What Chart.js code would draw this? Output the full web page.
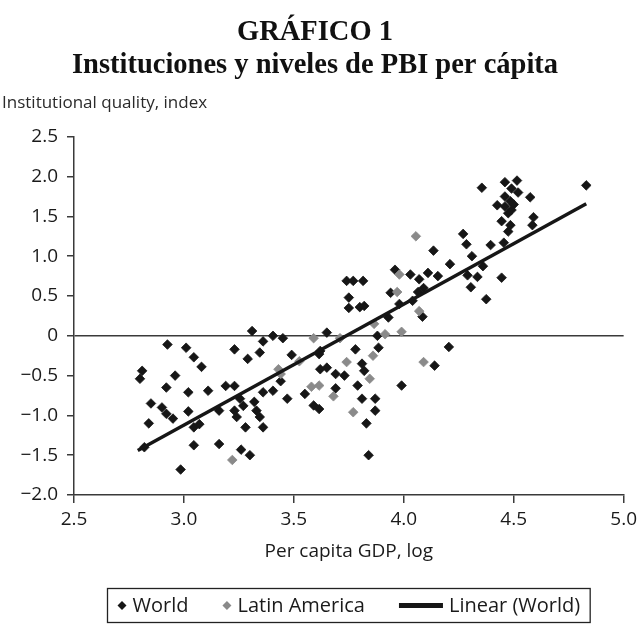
<!DOCTYPE html>
<html>
<head>
<meta charset="utf-8">
<script src="https://cdn.jsdelivr.net/npm/chart.js@4.4.0/dist/chart.umd.min.js"></script>
<style>
  html, body { margin: 0; padding: 0; background: #fff; }
  #wrap { width: 642px; height: 624px; position: relative; }
</style>
</head>
<body>
<div id="wrap"><canvas id="c" width="642" height="624"></canvas></div>
<script>
// ---- Data ----
const titleLines = ['GRÁFICO 1', 'Instituciones y niveles de PBI per cápita'];
const yAxisTitle = 'Institutional quality, index';
const xAxisTitle = 'Per capita GDP, log';
const seriesNames = ['World', 'Latin America', 'Linear (World)'];
const xTickLabels = ['2.5', '3.0', '3.5', '4.0', '4.5', '5.0'];
const yTickLabels = ['−2.0', '−1.5', '−1.0', '−0.5', '0', '0.5', '1.0', '1.5', '2.0', '2.5'];

const worldGdp = [
  2.82, 2.81, 2.80, 2.925, 3.01, 3.045, 3.08, 2.96, 2.92, 3.02,
  3.11, 3.19, 3.23, 2.85, 2.90, 2.92, 2.95, 3.02, 2.84, 3.16,
  3.255, 3.27, 3.23, 3.24, 3.32, 3.33, 3.345, 3.36, 3.28, 3.36,
  3.405, 3.47, 3.55, 3.045, 3.07, 3.045, 3.16, 3.26, 3.30, 2.985,
  3.31, 3.405, 3.45, 3.36, 3.23, 3.345, 3.29, 3.49, 3.44,
  3.65, 3.88, 3.78, 3.885, 3.62, 3.615, 3.62, 3.65, 3.81, 3.82,
  3.69, 3.73, 3.79, 3.99, 3.69, 3.81, 3.87, 3.59, 3.615, 3.87,
  3.83, 3.84, 4.205, 4.14, 3.93, 4.085, 3.98, 4.04, 3.75, 3.80,
  3.82, 3.75, 3.94, 3.74, 3.77, 3.815, 3.96, 4.03, 4.07, 4.11,
  4.155, 4.135, 4.21, 4.09, 4.065,
  4.355, 4.46, 4.515, 4.49, 4.52, 4.46, 4.575, 4.425, 4.485, 4.50,
  4.46, 4.49, 4.475, 4.59, 4.585, 4.445, 4.485, 4.475, 4.27, 4.285,
  4.395, 4.455, 4.31, 4.36, 4.29, 4.335, 4.445, 4.305, 4.375, 4.83
];
const worldInst = [
  -1.40, -0.44, -0.54, -0.11, -0.15, -0.27, -0.39, -0.50, -0.65, -0.71,
  -0.69, -0.63, -0.63, -0.85, -0.90, -0.98, -1.04, -0.95, -1.10, -0.94,
  -0.79, -0.88, -0.94, -1.02, -0.83, -0.94, -1.02, -1.15, -1.15, -0.71,
  -0.69, -0.79, -0.73, -1.15, -1.11, -1.375, -1.36, -1.43, -1.50, -1.68,
  0.06, 0.00, -0.03, -0.07, -0.17, -0.21, -0.29, -0.24, -0.57,
  0.04, 0.00, -0.17, -0.15, -0.19, -0.23, -0.42, -0.40, -0.35, -0.44,
  -0.48, -0.50, -0.625, -0.625, -0.66, -0.79, -0.79, -0.875, -0.92, -0.94,
  -1.10, -1.50, -0.14, -0.375, 0.23, 0.24, 0.40, 0.44, 0.35, 0.36,
  0.375, 0.48, 0.54, 0.69, 0.69, 0.69, 0.83, 0.77, 0.71, 0.79,
  0.75, 1.07, 0.90, 0.60, 0.55,
  1.86, 1.93, 1.95, 1.85, 1.80, 1.75, 1.74, 1.64, 1.69, 1.65,
  1.625, 1.58, 1.54, 1.49, 1.39, 1.44, 1.39, 1.31, 1.28, 1.15,
  1.14, 1.17, 1.00, 0.875, 0.76, 0.74, 0.73, 0.61, 0.46, 1.89
];
const latamGdp = [
  4.055, 3.98, 3.97, 4.07, 3.865, 3.59, 3.71, 3.915, 3.99, 3.525,
  3.43, 3.44, 3.86, 4.09, 3.74, 3.845, 3.58, 3.615, 3.68, 3.77, 3.22
];
const latamInst = [
  1.25, 0.77, 0.55, 0.31, 0.15, -0.03, -0.03, 0.02, 0.05, -0.32,
  -0.42, -0.48, -0.25, -0.33, -0.33, -0.54, -0.64, -0.625, -0.76, -0.96, -1.56
];
const trendGdp = [2.79, 4.83];
const trendInst = [-1.44, 1.66];

// ---- Build datasets ----
const toPts = (xs, ys) => xs.map((x, i) => ({ x: x, y: ys[i] }));
const BLACK = '#161616';
const GRAY = '#8a8a8a';
const AXIS = '#3a3a3a';
const TXT = '#1a1a1a';
const SANS = "'Open Sans', 'DejaVu Sans', sans-serif";
const SERIF = "'Liberation Serif', 'DejaVu Serif', serif";

const legendBox = {
  id: 'legendBox',
  afterDraw(chart) {
    const ctx = chart.ctx;
    const area = chart.chartArea;
    ctx.save();
    ctx.font = '20px ' + SANS;
    ctx.textBaseline = 'middle';
    const items = [
      { label: seriesNames[0], kind: 'diamond', color: BLACK },
      { label: seriesNames[1], kind: 'diamond', color: GRAY },
      { label: seriesNames[2], kind: 'line', color: BLACK }
    ];
    const gapAfterSym = 6, gapBetween = 34, padX = 10;
    const symW = k => (k === 'diamond' ? 9 : 44);
    let total = padX * 2;
    items.forEach((it, i) => {
      total += symW(it.kind) + gapAfterSym + ctx.measureText(it.label).width;
      if (i < items.length - 1) total += gapBetween;
    });
    const cx = (area.left + area.right) / 2;
    const left = Math.round(cx - total / 2) + 0.5;
    const top = 588.5, h = 34;
    ctx.strokeStyle = '#222';
    ctx.lineWidth = 1.3;
    ctx.strokeRect(left, top, total, h);
    const cy = top + h / 2;
    let x = left + padX;
    items.forEach((it) => {
      if (it.kind === 'diamond') {
        const r = 4.5, mx = x + 4.5;
        ctx.fillStyle = it.color;
        ctx.beginPath();
        ctx.moveTo(mx, cy - r); ctx.lineTo(mx + r, cy); ctx.lineTo(mx, cy + r); ctx.lineTo(mx - r, cy);
        ctx.closePath(); ctx.fill();
      } else {
        ctx.fillStyle = it.color;
        ctx.fillRect(x, cy - 2.5, 44, 5);
      }
      x += symW(it.kind) + gapAfterSym;
      ctx.fillStyle = TXT;
      ctx.textAlign = 'left';
      ctx.fillText(it.label, x, cy + 1);
      x += ctx.measureText(it.label).width + gapBetween;
    });
    ctx.restore();
  }
};

new Chart(document.getElementById('c'), {
  type: 'scatter',
  data: {
    datasets: [
      {
        label: seriesNames[2],
        type: 'line',
        data: toPts(trendGdp, trendInst),
        borderColor: BLACK,
        borderWidth: 3.5,
        pointRadius: 0,
        fill: false,
        order: 0
      },
      {
        label: seriesNames[1],
        data: toPts(latamGdp, latamInst),
        pointStyle: 'rectRot',
        pointRadius: 4.8,
        backgroundColor: GRAY,
        borderColor: GRAY,
        borderWidth: 0.8,
        order: 1
      },
      {
        label: seriesNames[0],
        data: toPts(worldGdp, worldInst),
        pointStyle: 'rectRot',
        pointRadius: 4.8,
        backgroundColor: BLACK,
        borderColor: BLACK,
        borderWidth: 0.8,
        order: 2
      }
    ]
  },
  options: {
    responsive: false,
    animation: false,
    devicePixelRatio: 1,
    layout: { padding: { left: 2, right: 14, top: 0, bottom: 37 } },
    plugins: {
      legend: { display: false },
      tooltip: { enabled: false },
      title: {
        display: true,
        text: titleLines,
        color: '#111',
        font: { family: SERIF, size: 28.5, weight: 'bold', lineHeight: 1.13 },
        padding: { top: 17, bottom: 12 }
      },
      subtitle: {
        display: true,
        text: yAxisTitle,
        align: 'start',
        color: '#2a2a2a',
        font: { family: SANS, size: 17, lineHeight: 1.2 },
        padding: { top: 0, bottom: 23 }
      }
    },
    scales: {
      x: {
        type: 'linear',
        min: 2.5,
        max: 5.0,
        afterFit: s => { s.height = 92; },
        afterBuildTicks: s => { s.ticks = xTickLabels.map(t => ({ value: parseFloat(t) })); },
        ticks: {
          callback: (v, i) => xTickLabels[i],
          color: TXT,
          font: { family: SANS, size: 19 },
          padding: 5,
          maxRotation: 0,
          autoSkip: false
        },
        grid: {
          drawOnChartArea: false,
          color: AXIS,
          tickColor: AXIS,
          tickLength: 8,
          lineWidth: 1.5
        },
        border: { display: true, color: AXIS, width: 1.5 },
        title: {
          display: true,
          text: xAxisTitle,
          color: TXT,
          font: { family: SANS, size: 19, lineHeight: 1.2 },
          padding: { top: 0, bottom: 24 }
        }
      },
      y: {
        type: 'linear',
        min: -2.0,
        max: 2.5,
        afterFit: s => { s.width = 72; },
        afterBuildTicks: s => { s.ticks = yTickLabels.map(t => ({ value: parseFloat(t.replace('−', '-')) })); },
        ticks: {
          callback: (v, i) => yTickLabels[i],
          color: TXT,
          font: { family: SANS, size: 19 },
          padding: 9,
          autoSkip: false
        },
        grid: {
          color: c => (c.tick && c.tick.value === 0 ? AXIS : 'rgba(0,0,0,0)'),
          tickColor: AXIS,
          tickLength: 7,
          lineWidth: 1.5
        },
        border: { display: true, color: AXIS, width: 1.5 }
      }
    }
  },
  plugins: [legendBox]
});
</script>
</body>
</html>
